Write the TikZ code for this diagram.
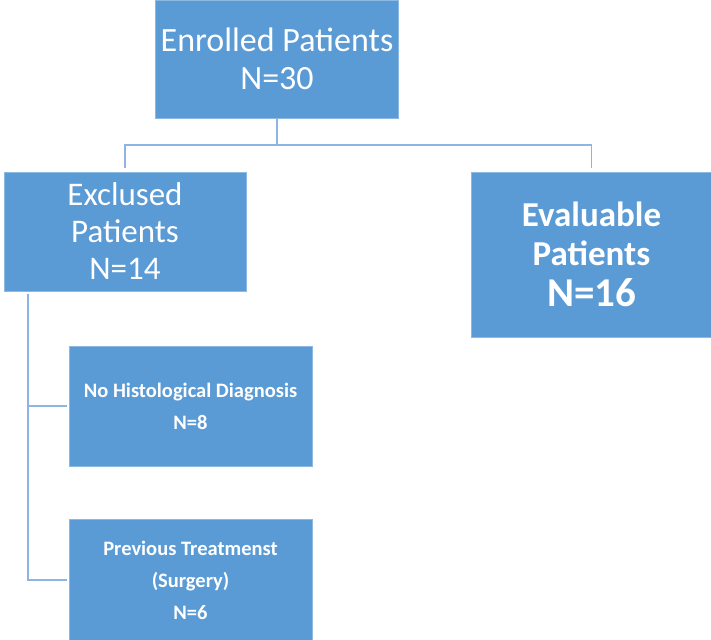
\documentclass[tikz,border=0pt]{standalone}
\usepackage{fontspec}
\setmainfont{Carlito}
\definecolor{boxblue}{RGB}{91,155,213}
\definecolor{linkblue}{RGB}{141,180,226}
\begin{document}
\begin{tikzpicture}[x=1pt,y=-1pt,
  box/.style={fill=boxblue,draw=boxblue!70!white,line width=0.6pt,text=white,align=center,inner sep=0pt,anchor=center},
  conn/.style={draw=linkblue,line width=1.4pt}]
\useasboundingbox (0,0) rectangle (711,639);
\node[box,minimum width=243pt,minimum height=118pt,font=\fontsize{34}{38}\selectfont] (enr) at (277,59)
  {Enrolled Patients\\N=30};
\node[box,minimum width=242pt,minimum height=119pt,font=\fontsize{33}{37}\selectfont] (exc) at (125,231.5)
  {Exclused\\Patients\\N=14};
\node[box,minimum width=240pt,minimum height=165pt,font=\bfseries\fontsize{35}{39}\selectfont] (eva) at (591.5,254.5)
  {Evaluable\\Patients\\[2pt]\fontsize{41}{45}\selectfont N=16};
\node[box,minimum width=243pt,minimum height=120pt,font=\bfseries\fontsize{20.5}{32}\selectfont] (nh) at (190.5,406)
  {No Histological Diagnosis\\N=8};
\node[box,minimum width=243pt,minimum height=122pt,font=\bfseries\fontsize{20.5}{32}\selectfont] (pt) at (190.5,580)
  {Previous Treatmenst\\(Surgery)\\N=6};
\coordinate (j) at (277,145);
\coordinate (lt) at (28,294);
\draw[conn] (enr.south) -- (j);
\draw[conn,shorten >=4pt] (j) -| (exc.north);
\draw[conn,shorten >=4pt] (j) -| (eva.north);
\draw[conn,shorten >=2pt] (lt) |- (nh.west);
\draw[conn,shorten >=2pt] (lt) |- (pt.west);
\end{tikzpicture}
\end{document}
